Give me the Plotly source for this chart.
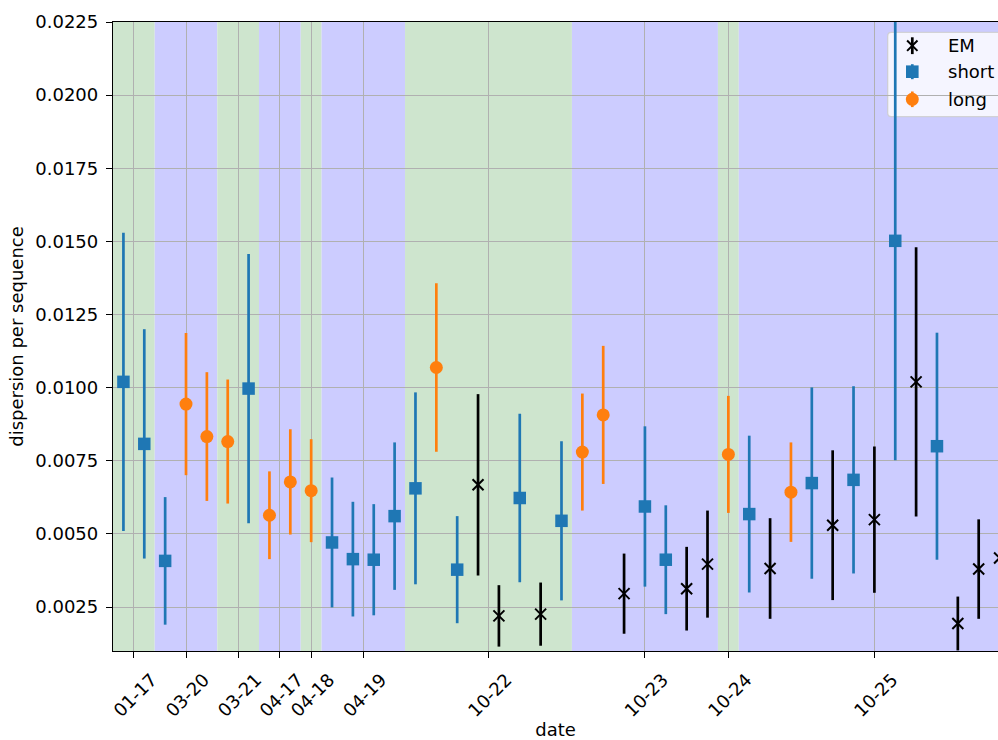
import plotly.graph_objects as go

# Measurement dates and the number of runs recorded on each of them
dates = ["01-17", "03-20", "03-21", "04-17", "04-18", "04-19",
         "10-22", "10-23", "10-24", "10-25"]
runs_per_date = [2, 3, 2, 2, 1, 4, 8, 7, 1, 13]

# Run type for every run, in chronological order
run_kind = [
    "short", "short",
    "short", "long", "long",
    "long", "short",
    "long", "long",
    "long",
    "short", "short", "short", "short",
    "short", "long", "short", "EM", "EM", "short", "EM", "short",
    "long", "long", "EM", "short", "short", "EM", "EM",
    "long",
    "short", "EM", "long", "short", "EM", "short", "EM", "short", "EM",
    "short", "EM", "EM", "EM",
]

# Dispersion per sequence and its uncertainty for every run
dispersion = [
    0.0102, 0.00808,
    0.00408, 0.00944, 0.00833,
    0.00816, 0.00997,
    0.00564, 0.00678,
    0.00648,
    0.00471, 0.00414, 0.00412, 0.00561,
    0.00656, 0.01069, 0.00378, 0.00668, 0.00220, 0.00623, 0.00226, 0.00545,
    0.00780, 0.00907, 0.00296, 0.00594, 0.00412, 0.00313, 0.00397,
    0.00772,
    0.00568, 0.00382, 0.00643, 0.00674, 0.00530, 0.00685, 0.00549, 0.01502,
    0.01020, 0.00800, 0.00194, 0.00380, 0.00418,
]
dispersion_err = [
    0.00510, 0.00392,
    0.00218, 0.00243, 0.00220,
    0.00212, 0.00460,
    0.00150, 0.00180,
    0.00176,
    0.00222, 0.00196, 0.00190, 0.00252,
    0.00328, 0.00288, 0.00183, 0.00310, 0.00105, 0.00288, 0.00108, 0.00272,
    0.00200, 0.00236, 0.00137, 0.00274, 0.00186, 0.00143, 0.00183,
    0.00200,
    0.00268, 0.00172, 0.00170, 0.00327, 0.00256, 0.00320, 0.00250, 0.00750,
    0.00460, 0.00388, 0.00092, 0.00170, 0.00170,
]

series_order = ["EM", "short", "long"]
series_style = {
    "EM": dict(color="black", symbol="x-thin", size=11, line=dict(color="black", width=2)),
    "short": dict(color="#1f77b4", symbol="square", size=12.5),
    "long": dict(color="#ff7f0e", symbol="circle", size=13),
}

FONT = "DejaVu Sans"
W, H = 998, 740
L_M, T_M, B_M = 113, 22, 89
PLOT_W = W - L_M
PLOT_H = H - T_M - B_M
X_MIN = -0.5
X_MAX = X_MIN + PLOT_W / 20.86
Y_MIN, Y_MAX = 0.001, 0.0225

fig = go.Figure()

# alternating shaded band behind the runs of each date
run_index = list(range(len(run_kind)))
tick_pos = []
start = 0
for i, n in enumerate(runs_per_date):
    tick_pos.append(start + (n - 1) / 2)
    fig.add_shape(
        type="rect", xref="x", yref="paper",
        x0=start - 0.5, x1=start + n - 0.5, y0=0, y1=1,
        fillcolor="#cee5ce" if i % 2 == 0 else "#ccccff",
        line=dict(width=0), layer="below",
    )
    start += n

for kind in series_order:
    idx = [i for i in run_index if run_kind[i] == kind]
    st = series_style[kind]
    marker = dict(color=st["color"], symbol=st["symbol"], size=st["size"])
    if "line" in st:
        marker["line"] = st["line"]
    fig.add_trace(go.Scatter(
        x=idx,
        y=[dispersion[i] for i in idx],
        mode="markers",
        name=kind,
        marker=marker,
        error_y=dict(type="data", array=[dispersion_err[i] for i in idx],
                     color=st["color"], thickness=2.7, width=0),
        showlegend=False,
    ))


# ---- legend box drawn in pixel units, anchored at the plot area's top-left ----
def ox(px):
    return px - L_M


def oy(py):
    return T_M - py


def pix_shape(**kw):
    base = dict(xref="paper", yref="paper", xanchor=0, yanchor=1,
                xsizemode="pixel", ysizemode="pixel")
    base.update(kw)
    fig.add_shape(**base)


bl, bt, br, bb, r = 887.7, 32.3, 1001.0, 116.7, 3.6
box_path = (
    f"M{ox(bl + r)},{oy(bt)} L{ox(br - r)},{oy(bt)} Q{ox(br)},{oy(bt)} {ox(br)},{oy(bt + r)} "
    f"L{ox(br)},{oy(bb - r)} Q{ox(br)},{oy(bb)} {ox(br - r)},{oy(bb)} "
    f"L{ox(bl + r)},{oy(bb)} Q{ox(bl)},{oy(bb)} {ox(bl)},{oy(bb - r)} "
    f"L{ox(bl)},{oy(bt + r)} Q{ox(bl)},{oy(bt)} {ox(bl + r)},{oy(bt)} Z"
)
pix_shape(type="path", path=box_path, fillcolor="rgba(255,255,255,0.8)",
          line=dict(color="rgba(204,204,204,0.8)", width=1.3), layer="between")

hx = 912.3
rows = {"EM": 45.7, "short": 71.7, "long": 99.3}
bar_half = {"EM": 8.4, "short": 7.5, "long": 7.8}
for kind in series_order:
    cy = rows[kind]
    col = series_style[kind]["color"]
    pix_shape(type="line", x0=ox(hx), x1=ox(hx), y0=oy(cy - bar_half[kind]),
              y1=oy(cy + bar_half[kind]), line=dict(color=col, width=2.7), layer="above")
    if kind == "EM":
        d = 5.2
        pix_shape(type="path",
                  path=f"M{ox(hx - d)},{oy(cy - d)} L{ox(hx + d)},{oy(cy + d)} "
                       f"M{ox(hx - d)},{oy(cy + d)} L{ox(hx + d)},{oy(cy - d)}",
                  line=dict(color=col, width=2), layer="above")
    elif kind == "short":
        s = 6.3
        pix_shape(type="rect", x0=ox(hx - s), x1=ox(hx + s), y0=oy(cy - s), y1=oy(cy + s),
                  fillcolor=col, line=dict(width=0), layer="above")
    else:
        s = 6.5
        pix_shape(type="circle", x0=ox(hx - s), x1=ox(hx + s), y0=oy(cy - s), y1=oy(cy + s),
                  fillcolor=col, line=dict(width=0), layer="above")
    fig.add_annotation(
        text=kind, xref="paper", yref="paper",
        x=(946.0 - L_M) / PLOT_W, y=(H - B_M - cy) / PLOT_H,
        xanchor="left", yanchor="middle", showarrow=False,
        font=dict(family=FONT, size=18, color="black"),
    )

fig.update_layout(
    width=W, height=H,
    margin=dict(l=L_M, r=0, t=T_M, b=B_M, autoexpand=False),
    paper_bgcolor="white", plot_bgcolor="rgba(0,0,0,0)",
    font=dict(family=FONT, size=18, color="black"),
    showlegend=False,
)
fig.update_xaxes(
    range=[X_MIN, X_MAX], tickmode="array", tickvals=tick_pos, ticktext=dates,
    tickangle=-45, ticklabelshift=18, ticklabelstandoff=4,
    ticks="outside", ticklen=6, tickwidth=1.3, tickcolor="black",
    showline=True, linecolor="black", linewidth=1.3, mirror=True,
    showgrid=True, gridcolor="#b0b0b0", gridwidth=1.4, zeroline=False,
    title=dict(text="date", font=dict(family=FONT, size=18)),
)
fig.update_yaxes(
    range=[Y_MIN, Y_MAX], tickmode="array",
    tickvals=[0.0025 * k for k in range(1, 10)],
    ticktext=[f"{0.0025 * k:.4f}" for k in range(1, 10)],
    ticklabelstandoff=4,
    ticks="outside", ticklen=6, tickwidth=1.3, tickcolor="black",
    showline=True, linecolor="black", linewidth=1.3, mirror=False,
    showgrid=True, gridcolor="#b0b0b0", gridwidth=1.4, zeroline=False,
    automargin=True,
    title=dict(text="dispersion per sequence", standoff=6,
               font=dict(family=FONT, size=18)),
)

fig.write_html("out.html")
